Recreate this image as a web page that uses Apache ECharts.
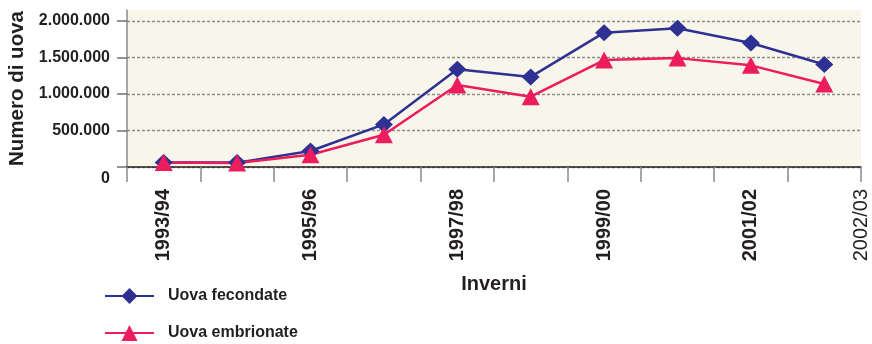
<!DOCTYPE html>
<html>
<head>
<meta charset="utf-8">
<script src="https://cdn.jsdelivr.net/npm/echarts@6/dist/echarts.min.js"></script>
<style>
  html, body { margin: 0; padding: 0; background: #ffffff; }
  #chart { width: 872px; height: 344px; }
</style>
</head>
<body>
<div id="chart"></div>
<script>
// Winters (seasons) on the category axis
const winters = ['1993/94', '1994/95', '1995/96', '1996/97', '1997/98',
                 '1998/99', '1999/00', '2000/01', '2001/02', '2002/03'];
// Label placed on the closing boundary of the axis
const closingLabel = '2002/03';

// Egg counts per winter
const uovaFecondate   = [60000, 60000, 219000, 583000, 1339000, 1234000, 1840000, 1899000, 1698000, 1403000];
const uovaEmbrionate  = [63000, 55000, 168000, 441000, 1123000, 963000, 1464000, 1491000, 1392000, 1136000];

// Y axis ticks
const yTicks = [0, 500000, 1000000, 1500000, 2000000];
const yMax = 2150000;

const SANS = '"Liberation Sans", Arial, Helvetica, sans-serif';
const INK = '#231f20';

function fmtIt(v) {
  return String(v).replace(/\B(?=(\d{3})+(?!\d))/g, '.');
}

const edgeLabels = winters.map(() => '').concat([closingLabel]);

const chart = echarts.init(document.getElementById('chart'), null, { renderer: 'canvas' });

chart.setOption({
  animation: false,
  backgroundColor: '#ffffff',
  grid: {
    left: 127, right: 11, top: 10, bottom: 177,
    containLabel: false, outerBoundsMode: 'none',
    show: true, backgroundColor: '#f8f6ea', borderWidth: 0
  },
  legend: {
    orient: 'vertical',
    left: 104, top: 286, height: 60, padding: 0,
    itemWidth: 49, itemHeight: 20, itemGap: 17,
    textStyle: { fontFamily: SANS, fontWeight: 'bold', fontSize: 16, lineHeight: 20, color: INK, padding: [0, 0, 0, 9] },
    data: ['Uova fecondate', 'Uova embrionate']
  },
  xAxis: [{
    type: 'category',
    data: winters,
    boundaryGap: true,
    position: 'bottom',
    name: 'Inverni',
    nameLocation: 'middle',
    nameGap: 107,
    nameTextStyle: { fontFamily: SANS, fontWeight: 'bold', fontSize: 20, color: INK },
    axisLine: { lineStyle: { color: INK, width: 1.5 } },
    axisTick: { show: true, interval: 0, length: 15, lineStyle: { color: '#8a8a8a', width: 1.5 } },
    axisLabel: {
      interval: 1, rotate: 90, margin: 22,
      fontFamily: SANS, fontWeight: 'bold', fontSize: 20, color: INK
    },
    splitLine: { show: false }
  }, {
    type: 'category',
    data: edgeLabels,
    boundaryGap: false,
    position: 'bottom',
    axisLine: { show: false },
    axisTick: { show: false },
    axisLabel: {
      interval: 0, rotate: 90, margin: 22,
      fontFamily: SANS, fontWeight: 'normal', fontSize: 20, color: INK
    },
    splitLine: { show: false }
  }],
  yAxis: {
    type: 'value',
    min: 0, max: yMax, interval: 500000,
    name: 'Numero di uova',
    nameLocation: 'middle',
    nameGap: 93,
    nameTextStyle: { fontFamily: SANS, fontWeight: 'bold', fontSize: 20.5, color: INK },
    axisLine: { show: true, lineStyle: { color: '#8a8a8a', width: 1.5 } },
    axisTick: { show: true, length: 10, customValues: yTicks, lineStyle: { color: '#6f6f6f', width: 1.5 } },
    axisLabel: {
      margin: 17, customValues: yTicks,
      fontFamily: SANS, fontWeight: 'bold', fontSize: 16, color: INK,
      formatter: (v) => (v === 0 ? '{zero|0}' : fmtIt(v)),
      rich: {
        zero: { fontFamily: SANS, fontWeight: 'bold', fontSize: 16, color: INK, padding: [24, 0, 0, 0] }
      }
    },
    splitLine: {
      show: true,
      lineStyle: { color: '#8c8c8c', width: 1.3, type: [3, 2] }
    }
  },
  series: [{
    name: 'Uova fecondate',
    type: 'line',
    data: uovaFecondate,
    symbol: 'diamond',
    symbolSize: [18, 17],
    color: '#2e3192',
    lineStyle: { width: 2.5, color: '#2e3192' },
    itemStyle: { color: '#2e3192' }
  }, {
    name: 'Uova embrionate',
    type: 'line',
    data: uovaEmbrionate,
    symbol: 'triangle',
    symbolSize: [18, 17],
    color: '#ed1c5c',
    lineStyle: { width: 2.5, color: '#ed1c5c' },
    itemStyle: { color: '#ed1c5c' }
  }]
});
</script>
</body>
</html>
